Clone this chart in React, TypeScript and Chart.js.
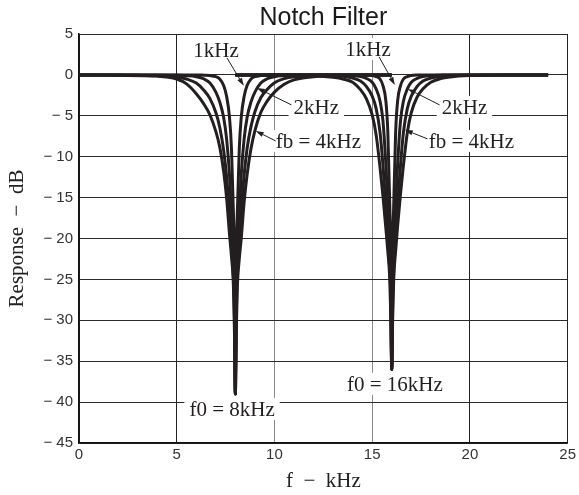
import React, { useEffect, useRef } from 'react';
import { Chart, registerables } from 'chart.js';

Chart.register(...registerables);

// ---- data (frequency in kHz, response in dB) ----
const FREQ_8K = [0, 2, 4, 5, 5.5, 6, 6.4, 6.7, 7, 7.2, 7.4, 7.55, 7.7, 7.8, 7.9, 7.95, 8, 8.05, 8.1, 8.2, 8.3, 8.45, 8.6, 8.8, 9, 9.3, 9.6, 10, 10.5, 11, 12, 14, 16];
const FREQ_16K = [8, 10, 12, 13, 13.5, 14, 14.4, 14.7, 15, 15.2, 15.4, 15.55, 15.7, 15.8, 15.9, 15.95, 16, 16.05, 16.1, 16.2, 16.3, 16.45, 16.6, 16.8, 17, 17.3, 17.6, 18, 18.5, 19, 20, 22, 24];

const DB_8K_FB4 = [0, -0.05, -0.15, -0.5, -1.1, -2.3, -3.6, -4.9, -6.9, -8.8, -11.8, -15.0, -19.5, -22.2, -25.8, -31, -39, -31, -26, -22.5, -20, -15.5, -12.2, -9.0, -6.8, -4.6, -3.3, -2.1, -1.15, -0.6, -0.22, -0.05, 0];
const DB_8K_FB3 = [0, 0, -0.1, -0.25, -0.5, -1.0, -1.9, -2.9, -4.6, -6.4, -9.2, -12.4, -17.0, -21.0, -24.8, -29, -39, -29, -24.7, -20.8, -16.8, -12.2, -9.0, -6.3, -4.5, -2.8, -1.85, -0.95, -0.45, -0.22, -0.08, 0, 0];
const DB_8K_FB2 = [0, 0, 0, -0.05, -0.1, -0.22, -0.5, -1.0, -2.1, -3.3, -5.2, -7.8, -12.2, -16.8, -22.5, -26, -39, -26, -22.5, -16.8, -12.2, -7.8, -5.2, -3.3, -2.1, -1.0, -0.5, -0.22, -0.1, -0.05, 0, 0, 0];
const DB_8K_FB1 = [0, 0, 0, 0, 0, 0, -0.04, -0.08, -0.22, -0.5, -1.3, -2.6, -5.2, -9.0, -16.8, -22.5, -39, -22.5, -16.8, -9.0, -5.2, -2.6, -1.3, -0.5, -0.22, -0.08, -0.04, 0, 0, 0, 0, 0, 0];

const DB_16K_FB4 = [0, 0, -0.1, -0.3, -0.5, -0.9, -1.8, -2.9, -4.9, -7.3, -11.3, -14.8, -18.8, -21.6, -25, -29.5, -36, -29.5, -25, -21.5, -18.5, -14.5, -11, -7.0, -4.6, -2.7, -1.7, -0.9, -0.45, -0.25, -0.08, 0, 0];
const DB_16K_FB3 = [0, 0, -0.02, -0.08, -0.18, -0.38, -0.75, -1.4, -2.6, -4.1, -7.0, -11.0, -16.0, -19.8, -24.0, -27.5, -36, -27.5, -24.0, -19.8, -16.0, -11.0, -7.0, -4.1, -2.6, -1.4, -0.75, -0.38, -0.18, -0.08, -0.02, 0, 0];
const DB_16K_FB2 = [0, 0, 0, 0, -0.03, -0.08, -0.2, -0.42, -0.9, -1.7, -3.2, -5.6, -11, -16, -21.5, -25, -36, -25, -21.5, -16, -11, -5.6, -3.2, -1.7, -0.9, -0.42, -0.2, -0.08, -0.03, 0, 0, 0, 0];
const DB_16K_FB1 = [0, 0, 0, 0, 0, 0, 0, -0.02, -0.08, -0.2, -0.5, -1.3, -3.2, -7.0, -16, -21.5, -36, -21.5, -16, -7.0, -3.2, -1.3, -0.5, -0.2, -0.08, -0.02, 0, 0, 0, 0, 0, 0, 0];

const SERIES = [
  { label: 'f0=8kHz fb=4kHz', x: FREQ_8K, y: DB_8K_FB4 },
  { label: 'f0=8kHz fb=3kHz', x: FREQ_8K, y: DB_8K_FB3 },
  { label: 'f0=8kHz fb=2kHz', x: FREQ_8K, y: DB_8K_FB2 },
  { label: 'f0=8kHz fb=1kHz', x: FREQ_8K, y: DB_8K_FB1 },
  { label: 'f0=16kHz fb=4kHz', x: FREQ_16K, y: DB_16K_FB4 },
  { label: 'f0=16kHz fb=3kHz', x: FREQ_16K, y: DB_16K_FB3 },
  { label: 'f0=16kHz fb=2kHz', x: FREQ_16K, y: DB_16K_FB2 },
  { label: 'f0=16kHz fb=1kHz', x: FREQ_16K, y: DB_16K_FB1 },
];

const X_MIN = 0;
const X_MAX = 25;
const Y_MIN = -45;
const Y_MAX = 5;
const TICK_STEP = 5;

// annotation labels in data coordinates (label centre, arrow tail, arrow tip)
const ANNOTATIONS = [
  { text: '1kHz', at: [7.01, 3.06], from: [7.57, 2.08], to: [8.43, -1.34] },
  { text: '2kHz', at: [12.14, -3.9], from: [10.87, -3.67], to: [9.1, -1.59] },
  { text: 'fb = 4kHz', at: [12.25, -8.07], from: [10.06, -8.07], to: [9.04, -6.85] },
  { text: '1kHz', at: [14.79, 3.18], from: [15.35, 2.2], to: [16.16, -1.22] },
  { text: '2kHz', at: [19.72, -3.91], from: [18.45, -3.67], to: [16.82, -1.71] },
  { text: 'fb = 4kHz', at: [20.07, -8.07], from: [17.83, -7.82], to: [16.67, -6.72] },
  { text: 'f0 = 8kHz', at: [7.83, -40.83], from: null, to: null },
  { text: 'f0 = 16kHz', at: [16.16, -37.77], from: null, to: null },
];

const SANS = '"Liberation Sans", Arial, Helvetica, sans-serif';
const SERIF = '"Liberation Serif", "Times New Roman", Times, serif';
const INK = '#231f20';

const labelPlugin = {
  id: 'notchLabels',
  afterDatasetsDraw(chart: any) {
    const { ctx, scales } = chart;
    const xs = scales.x;
    const ys = scales.y;
    ctx.save();
    ctx.font = `21px ${SERIF}`;
    ctx.textAlign = 'center';
    ctx.textBaseline = 'middle';
    for (const a of ANNOTATIONS) {
      const px = xs.getPixelForValue(a.at[0]);
      const py = ys.getPixelForValue(a.at[1]);
      const w = ctx.measureText(a.text).width;
      ctx.fillStyle = '#ffffff';
      ctx.fillRect(px - w / 2 - 5, py - 11, w + 10, 22);
      ctx.fillStyle = INK;
      ctx.fillText(a.text, px, py + 2);
    }
    ctx.strokeStyle = INK;
    ctx.fillStyle = INK;
    ctx.lineWidth = 1;
    for (const a of ANNOTATIONS) {
      if (!a.from || !a.to) continue;
      const fx = xs.getPixelForValue(a.from[0]);
      const fy = ys.getPixelForValue(a.from[1]);
      const tx = xs.getPixelForValue(a.to[0]);
      const ty = ys.getPixelForValue(a.to[1]);
      const ang = Math.atan2(ty - fy, tx - fx);
      const L = 8;
      const H = 2.6;
      const bx = tx - L * Math.cos(ang);
      const by = ty - L * Math.sin(ang);
      ctx.beginPath();
      ctx.moveTo(fx, fy);
      ctx.lineTo(bx, by);
      ctx.stroke();
      ctx.beginPath();
      ctx.moveTo(tx, ty);
      ctx.lineTo(bx + H * Math.sin(ang), by - H * Math.cos(ang));
      ctx.lineTo(bx - H * Math.sin(ang), by + H * Math.cos(ang));
      ctx.closePath();
      ctx.fill();
    }
    ctx.restore();
  },
};

export default function App() {
  const canvasRef = useRef<HTMLCanvasElement | null>(null);

  useEffect(() => {
    document.body.style.margin = '0';
    const canvas = canvasRef.current;
    if (!canvas) return;

    const chart = new Chart(canvas, {
      type: 'line',
      data: {
        datasets: SERIES.map((s) => ({
          label: s.label,
          data: s.x.map((x, i) => ({ x, y: s.y[i] })),
          borderColor: INK,
          backgroundColor: INK,
          borderWidth: 3,
          pointRadius: 0,
          pointHoverRadius: 0,
          fill: false,
          cubicInterpolationMode: 'monotone',
          borderJoinStyle: 'round',
          borderCapStyle: 'butt',
        })),
      },
      options: {
        responsive: false,
        devicePixelRatio: 1,
        animation: false,
        events: [],
        layout: { padding: { left: 0, right: 9, top: 0, bottom: 0 } },
        plugins: {
          legend: { display: false },
          tooltip: { enabled: false },
          title: {
            display: true,
            text: 'Notch Filter',
            fullSize: false,
            color: '#1a1a1a',
            font: { family: SANS, size: 25, weight: 'normal' },
            padding: { top: 3, bottom: 1 },
          },
        },
        scales: {
          x: {
            type: 'linear',
            min: X_MIN,
            max: X_MAX,
            ticks: {
              stepSize: TICK_STEP,
              color: '#333',
              font: { family: SANS, size: 15 },
              padding: 3,
              maxRotation: 0,
            },
            grid: {
              color: (c: any) =>
                c.tick && (c.tick.value === 10 || c.tick.value === 15) ? '#8a8a8a' : '#222',
              lineWidth: 1,
              drawTicks: false,
            },
            border: { display: true, color: '#111', width: 1.5 },
            title: {
              display: true,
              text: 'f  −  kHz',
              color: '#222',
              font: { family: SERIF, size: 21 },
              padding: { top: 0, bottom: 1 },
            },
            afterFit: (s: any) => {
              s.height = 52;
            },
          },
          y: {
            type: 'linear',
            min: Y_MIN,
            max: Y_MAX,
            ticks: {
              stepSize: TICK_STEP,
              color: '#333',
              font: { family: SANS, size: 15 },
              padding: 6,
              callback: (v: any) => (v < 0 ? '− ' + Math.abs(v) : String(v)),
            },
            grid: {
              color: '#2a2a2a',
              lineWidth: 1,
              drawTicks: false,
            },
            border: { display: true, color: '#111', width: 1.5 },
            title: {
              display: true,
              text: 'Response  −  dB',
              color: '#222',
              font: { family: SERIF, size: 21 },
              padding: { top: 5, bottom: 0 },
            },
            afterFit: (s: any) => {
              s.width = 79;
            },
          },
        },
      },
      plugins: [labelPlugin],
    } as any);

    return () => {
      chart.destroy();
    };
  }, []);

  return (
    <div style={{ width: 579, height: 495, overflow: 'hidden', background: '#fff' }}>
      <canvas ref={canvasRef} width={579} height={495} style={{ display: 'block', width: 579, height: 495 }} />
    </div>
  );
}
